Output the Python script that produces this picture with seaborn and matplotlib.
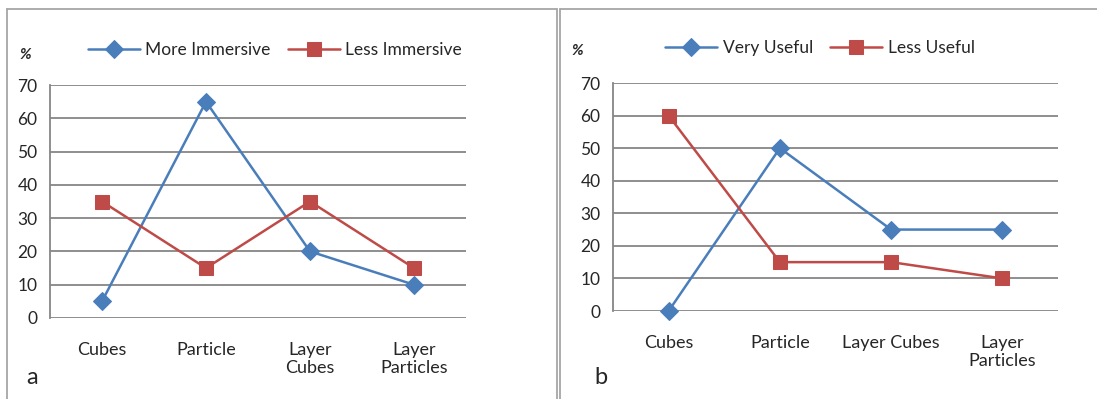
import numpy as np
import pandas as pd
import matplotlib
matplotlib.use('Agg')
import matplotlib.pyplot as plt
from matplotlib.lines import Line2D
import seaborn as sns

sns.set_style('white')
plt.rcParams['font.family'] = ['Lato', 'DejaVu Sans']

# data
cats_a = ['Cubes', 'Particle', 'Layer\nCubes', 'Layer\nParticles']
more_immersive = [5, 65, 20, 10]
less_immersive = [35, 15, 35, 15]

cats_b = ['Cubes', 'Particle', 'Layer Cubes', 'Layer\nParticles']
very_useful = [0, 50, 25, 25]
less_useful = [60, 15, 15, 10]

yticks = [0, 10, 20, 30, 40, 50, 60, 70]

blue = '#4a7ebb'
red = '#be4b48'
grid_c = '#868686'

W, H = 1097, 399
fig = plt.figure(figsize=(W / 100, H / 100), dpi=100)


def px_axes(x0, x1, y0, y1):
    return fig.add_axes([x0 / W, 1 - y1 / H, (x1 - x0) / W, (y1 - y0) / H])


def panel(ax, cats, s1, s2, lab1, lab2, leg_x, leg_y):
    sns.lineplot(x=cats, y=s1, ax=ax, color=blue, marker='D', markersize=9,
                 markeredgecolor=blue, linewidth=1.8, sort=False, label=lab1, clip_on=False)
    sns.lineplot(x=cats, y=s2, ax=ax, color=red, marker='s', markersize=10,
                 markeredgecolor=red, linewidth=1.8, sort=False, label=lab2, clip_on=False)
    ax.set_xlim(-0.5, 3.5)
    ax.set_ylim(0, 70)
    ax.set_yticks(yticks)
    ax.yaxis.grid(True, color=grid_c, linewidth=1.3)
    ax.set_axisbelow(True)
    for s in ['top', 'right', 'bottom']:
        ax.spines[s].set_visible(False)
    ax.spines['left'].set_color(grid_c)
    ax.spines['left'].set_linewidth(1.3)
    ax.tick_params(axis='y', length=5, color=grid_c, width=1.3, labelsize=12.5, pad=4)
    ax.tick_params(axis='x', length=0, labelsize=13, pad=17)
    ax.set_xlabel('')
    ax.set_ylabel('')
    ax.legend(loc='center', bbox_to_anchor=(leg_x / W, 1 - leg_y / H),
              bbox_transform=fig.transFigure, ncol=2, frameon=False,
              fontsize=12.5, handlelength=3.0, columnspacing=1.0, handletextpad=0.3)


ax1 = px_axes(50, 466, 85, 318)
panel(ax1, cats_a, more_immersive, less_immersive, 'More Immersive', 'Less Immersive', 275, 50)
ax2 = px_axes(613, 1058, 83, 311)
panel(ax2, cats_b, very_useful, less_useful, 'Very Useful', 'Less Useful', 820, 48)

# '%' labels and panel letters
fig.text(25 / W, 1 - 55 / H, '%', fontsize=11, fontweight='bold', fontstyle='italic', ha='center', va='center')
fig.text(577 / W, 1 - 51 / H, '%', fontsize=11, fontweight='bold', fontstyle='italic', ha='center', va='center')
fig.text(32 / W, 1 - 378 / H, 'a', fontsize=17, ha='center', va='center')
fig.text(601 / W, 1 - 378 / H, 'b', fontsize=17, ha='center', va='center')

# panel borders
border = '#a6a6a6'
def fline(xs, ys):
    fig.add_artist(Line2D([x / W for x in xs], [1 - y / H for y in ys], color=border, linewidth=1.3))

fline([7, 7], [9, 400])
fline([7, 557], [9, 9])
fline([557, 557], [9, 400])
fline([560, 560], [9, 400])
fline([560, 1097], [9, 9])

fig.savefig('out.png', dpi=100)
